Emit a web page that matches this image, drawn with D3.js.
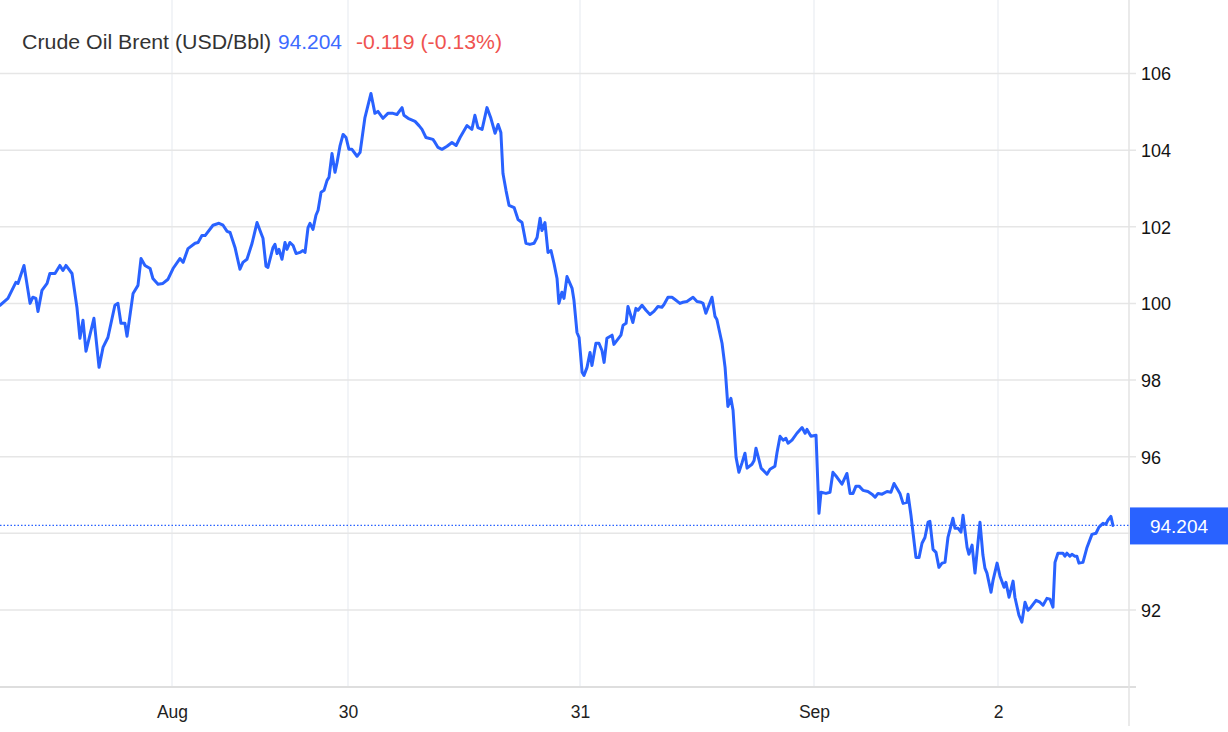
<!DOCTYPE html>
<html>
<head>
<meta charset="utf-8">
<script src="https://cdn.jsdelivr.net/npm/d3@7"></script>
<style>
  html, body { margin: 0; padding: 0; background: #ffffff; }
  svg { display: block; font-family: "Liberation Sans", Arial, sans-serif; }
</style>
</head>
<body>
<svg id="chart" width="1228" height="732"></svg>
<script>
// ---- data (day of August, fractional; Sep 1 = 32) ----
const times = [
  28.262,28.296,28.330,28.339,28.365,28.391,28.403,28.416,28.425,28.442,28.464,28.476,28.498,28.519,28.532,28.545,28.571,28.592,28.605,28.618,
  28.631,28.665,28.687,28.704,28.725,28.755,28.768,28.781,28.798,28.807,28.833,28.854,28.867,28.884,28.906,28.918,28.940,28.961,28.983,29.006,
  29.045,29.063,29.091,29.131,29.148,29.170,29.188,29.233,29.267,29.290,29.313,29.330,29.358,29.386,29.403,29.426,29.455,29.483,29.506,29.517,
  29.534,29.545,29.574,29.585,29.597,29.608,29.625,29.642,29.653,29.670,29.688,29.705,29.727,29.744,29.756,29.773,29.784,29.801,29.818,29.830,
  29.847,29.864,29.881,29.892,29.909,29.926,29.938,29.955,29.972,29.989,30.004,30.017,30.039,30.052,30.073,30.099,30.116,30.129,30.151,30.172,
  30.194,30.211,30.233,30.241,30.259,30.289,30.306,30.319,30.336,30.366,30.375,30.388,30.405,30.427,30.448,30.466,30.483,30.513,30.534,30.547,
  30.560,30.578,30.599,30.616,30.634,30.647,30.659,30.668,30.681,30.694,30.716,30.733,30.750,30.767,30.784,30.802,30.815,30.828,30.836,30.849,
  30.862,30.875,30.888,30.901,30.909,30.922,30.931,30.944,30.966,30.974,30.987,30.996,31.009,31.017,31.030,31.043,31.051,31.068,31.081,31.094,
  31.103,31.115,31.137,31.145,31.175,31.184,31.197,31.205,31.226,31.239,31.248,31.265,31.282,31.299,31.316,31.333,31.350,31.359,31.376,31.393,
  31.406,31.427,31.440,31.457,31.483,31.500,31.517,31.526,31.538,31.551,31.564,31.577,31.585,31.607,31.620,31.632,31.645,31.654,31.667,31.679,
  31.692,31.705,31.714,31.735,31.744,31.752,31.774,31.791,31.799,31.812,31.833,31.842,31.855,31.868,31.880,31.889,31.906,31.927,31.949,31.962,
  31.970,31.987,32.011,32.027,32.038,32.065,32.087,32.103,32.125,32.152,32.179,32.196,32.212,32.228,32.245,32.266,32.293,32.315,32.332,32.348,
  32.370,32.397,32.418,32.435,32.451,32.467,32.484,32.505,32.511,32.527,32.554,32.571,32.587,32.603,32.620,32.630,32.647,32.663,32.679,32.696,
  32.712,32.728,32.755,32.766,32.783,32.799,32.810,32.832,32.842,32.859,32.875,32.886,32.902,32.918,32.929,32.940,32.962,32.973,32.995,33.011,
  33.033,33.043,33.060,33.082,33.092,33.114,33.130,33.147,33.163,33.179,33.207,33.228,33.245,33.266,33.283,33.299,33.310,33.326,33.353,33.364,
  33.375,33.391,33.402,33.418,33.429,33.440,33.462,33.484,33.511,33.533,33.549,33.571,33.587,33.598,33.614,33.625
];
const prices = [
  99.95,100.13,100.55,100.52,100.99,100.00,100.16,100.13,99.79,100.34,100.52,100.78,100.78,100.99,100.86,100.99,100.78,99.90,99.09,99.56,
  98.75,99.61,98.33,98.85,99.11,99.95,100.00,99.48,99.48,99.14,100.26,100.47,101.17,100.99,100.91,100.65,100.50,100.52,100.63,100.91,
  101.17,101.07,101.43,101.57,101.59,101.77,101.77,102.04,102.09,102.04,101.88,101.85,101.46,100.89,101.07,101.15,101.57,102.11,101.83,101.70,
  100.97,100.94,101.46,101.54,101.30,101.41,101.15,101.59,101.41,101.59,101.51,101.30,101.33,101.38,101.33,101.98,102.09,101.93,102.30,102.43,
  102.90,102.95,103.21,103.29,103.91,103.42,103.68,104.12,104.41,104.33,104.02,104.02,103.84,103.94,104.85,105.48,104.96,105.01,104.83,104.96,
  104.96,104.93,105.11,104.91,104.83,104.75,104.64,104.54,104.33,104.28,104.20,104.07,104.02,104.10,104.20,104.12,104.33,104.64,104.54,104.91,
  104.59,104.54,105.11,104.83,104.44,104.67,104.46,103.39,102.95,102.56,102.50,102.19,102.11,101.57,101.54,101.57,101.72,102.22,101.90,102.11,
  101.33,101.38,101.04,100.65,100.00,100.29,100.13,100.70,100.39,100.08,99.24,99.11,98.20,98.12,98.33,98.72,98.38,98.96,98.96,98.77,
  98.46,99.09,99.17,98.93,99.17,99.43,99.48,99.92,99.50,99.87,99.82,99.95,99.82,99.71,99.79,99.92,99.90,99.97,100.16,100.16,
  100.10,100.00,100.03,100.05,100.16,100.05,100.03,100.00,99.74,99.95,100.16,99.66,99.58,98.96,98.33,97.31,97.52,97.21,95.98,95.59,
  95.83,96.09,95.70,95.80,95.90,96.22,95.70,95.59,95.54,95.67,95.75,96.11,96.53,96.43,96.48,96.35,96.43,96.61,96.76,96.61,
  96.71,96.53,96.56,94.52,95.07,95.04,95.07,95.59,95.46,95.28,95.56,95.04,95.04,95.23,95.23,95.12,95.09,95.02,94.94,95.04,
  95.02,95.09,95.07,95.30,95.17,95.04,94.78,94.81,95.02,94.47,93.37,93.37,93.74,93.89,94.29,94.31,93.58,93.50,93.11,93.22,
  93.24,93.89,94.39,94.13,94.13,94.03,94.47,93.63,93.45,93.69,92.96,93.50,94.29,93.43,93.09,92.96,92.46,92.77,93.22,92.88,
  92.59,92.72,92.33,92.75,92.33,91.86,91.68,92.20,91.99,92.07,92.25,92.20,92.12,92.30,92.28,92.07,93.24,93.48,93.48,93.40,
  93.48,93.40,93.45,93.40,93.40,93.22,93.24,93.63,93.97,94.00,94.16,94.26,94.23,94.34,94.44,94.204
];
const xTickDays   = [29, 30, 31, 32, 33];
const xTickLabels = ["Aug", "30", "31", "Sep", "2"];
const yTickValues = [90, 92, 94, 96, 98, 100, 102, 104, 106];
// 90 has no label; 94 is hidden behind the last-price marker in the reference
const yTickLabels = ["", "92", "", "96", "98", "100", "102", "104", "106"];
const titleName   = "Crude Oil Brent (USD/Bbl)";
const lastPrice   = 94.204;
const changeText  = "-0.119 (-0.13%)";

// ---- layout ----
const W = 1228, H = 732;
const plotRight = 1129, axisY = 687;
const svg = d3.select("#chart");

const x = d3.scaleLinear()
  .domain([28.262, 29, 30, 31, 32, 33, 33.707])
  .range([0, 172, 348, 580, 814, 998, plotRight - 1]);
const y = d3.scaleLinear().domain([90, 106]).range([686.5, 73.5]);

// vertical grid
svg.append("g").selectAll("line").data(xTickDays).join("line")
  .attr("x1", d => x(d)).attr("x2", d => x(d))
  .attr("y1", 0).attr("y2", axisY)
  .attr("stroke", "#eef1f5").attr("stroke-width", 1.5);

// horizontal grid + right ticks
svg.append("g").selectAll("line").data(yTickValues.filter(v => v > 90)).join("line")
  .attr("x1", 0).attr("x2", plotRight + 7)
  .attr("y1", d => y(d)).attr("y2", d => y(d))
  .attr("stroke", "#e6e6e6").attr("stroke-width", 1.5);

// bottom axis line
svg.append("line").attr("x1", 0).attr("x2", plotRight + 7)
  .attr("y1", axisY).attr("y2", axisY)
  .attr("stroke", "#dedede").attr("stroke-width", 2);

// right axis vertical line
svg.append("line").attr("x1", plotRight).attr("x2", plotRight)
  .attr("y1", 0).attr("y2", 726)
  .attr("stroke", "#e3e3e3").attr("stroke-width", 1.5);

// right axis labels
const yAxis = d3.axisRight(y).tickValues(yTickValues)
  .tickSize(0).tickFormat((d, i) => yTickLabels[i]);
const gy = svg.append("g").attr("transform", `translate(${plotRight + 9},0)`).call(yAxis);
gy.select(".domain").remove();
gy.selectAll(".tick").filter(d => yTickLabels[yTickValues.indexOf(d)] === "").remove();
gy.selectAll("text").attr("font-size", 18).attr("fill", "#131313")
  .attr("font-family", "Liberation Sans, Arial, sans-serif").attr("dy", "0.36em");

// bottom axis labels
const xAxis = d3.axisBottom(x).tickValues(xTickDays).tickSize(0)
  .tickFormat((d, i) => xTickLabels[i]);
const gx = svg.append("g").attr("transform", `translate(0,${axisY})`).call(xAxis);
gx.select(".domain").remove();
gx.selectAll("text").attr("font-size", 17.5).attr("fill", "#222")
  .attr("font-family", "Liberation Sans, Arial, sans-serif").attr("dy", "0").attr("y", 31);

// last price dotted line
svg.append("line").attr("x1", 0).attr("x2", plotRight)
  .attr("y1", y(lastPrice)).attr("y2", y(lastPrice))
  .attr("stroke", "#2962ff").attr("stroke-width", 1.2).attr("stroke-dasharray", "1.5,2");

// price line
const series = times.map((t, i) => ({ t, p: prices[i] }));
svg.append("path").datum(series)
  .attr("fill", "none").attr("stroke", "#2962ff").attr("stroke-width", 3)
  .attr("stroke-linejoin", "round").attr("stroke-linecap", "round")
  .attr("d", d3.line().x(d => x(d.t)).y(d => y(d.p)));

// last price label box
const by = y(lastPrice);
svg.append("rect").attr("x", plotRight + 1).attr("y", by - 18)
  .attr("width", W - plotRight - 1).attr("height", 37).attr("fill", "#2962ff");
svg.append("text").attr("x", (plotRight + 1 + W) / 2).attr("y", by + 1)
  .attr("text-anchor", "middle").attr("dy", "0.36em")
  .attr("font-size", 19).attr("fill", "#ffffff").text(lastPrice.toFixed(3));

// title
const tFont = 20;
svg.append("text").attr("x", 22).attr("y", 49).attr("font-size", tFont)
  .attr("fill", "#333333").attr("textLength", 249).attr("lengthAdjust", "spacingAndGlyphs")
  .text(titleName);
svg.append("text").attr("x", 278).attr("y", 49).attr("font-size", tFont)
  .attr("fill", "#3d6bff").attr("textLength", 64).attr("lengthAdjust", "spacingAndGlyphs")
  .text(lastPrice.toFixed(3));
svg.append("text").attr("x", 356).attr("y", 49).attr("font-size", tFont)
  .attr("fill", "#ef5350").attr("textLength", 146).attr("lengthAdjust", "spacingAndGlyphs")
  .text(changeText);
</script>
</body>
</html>
